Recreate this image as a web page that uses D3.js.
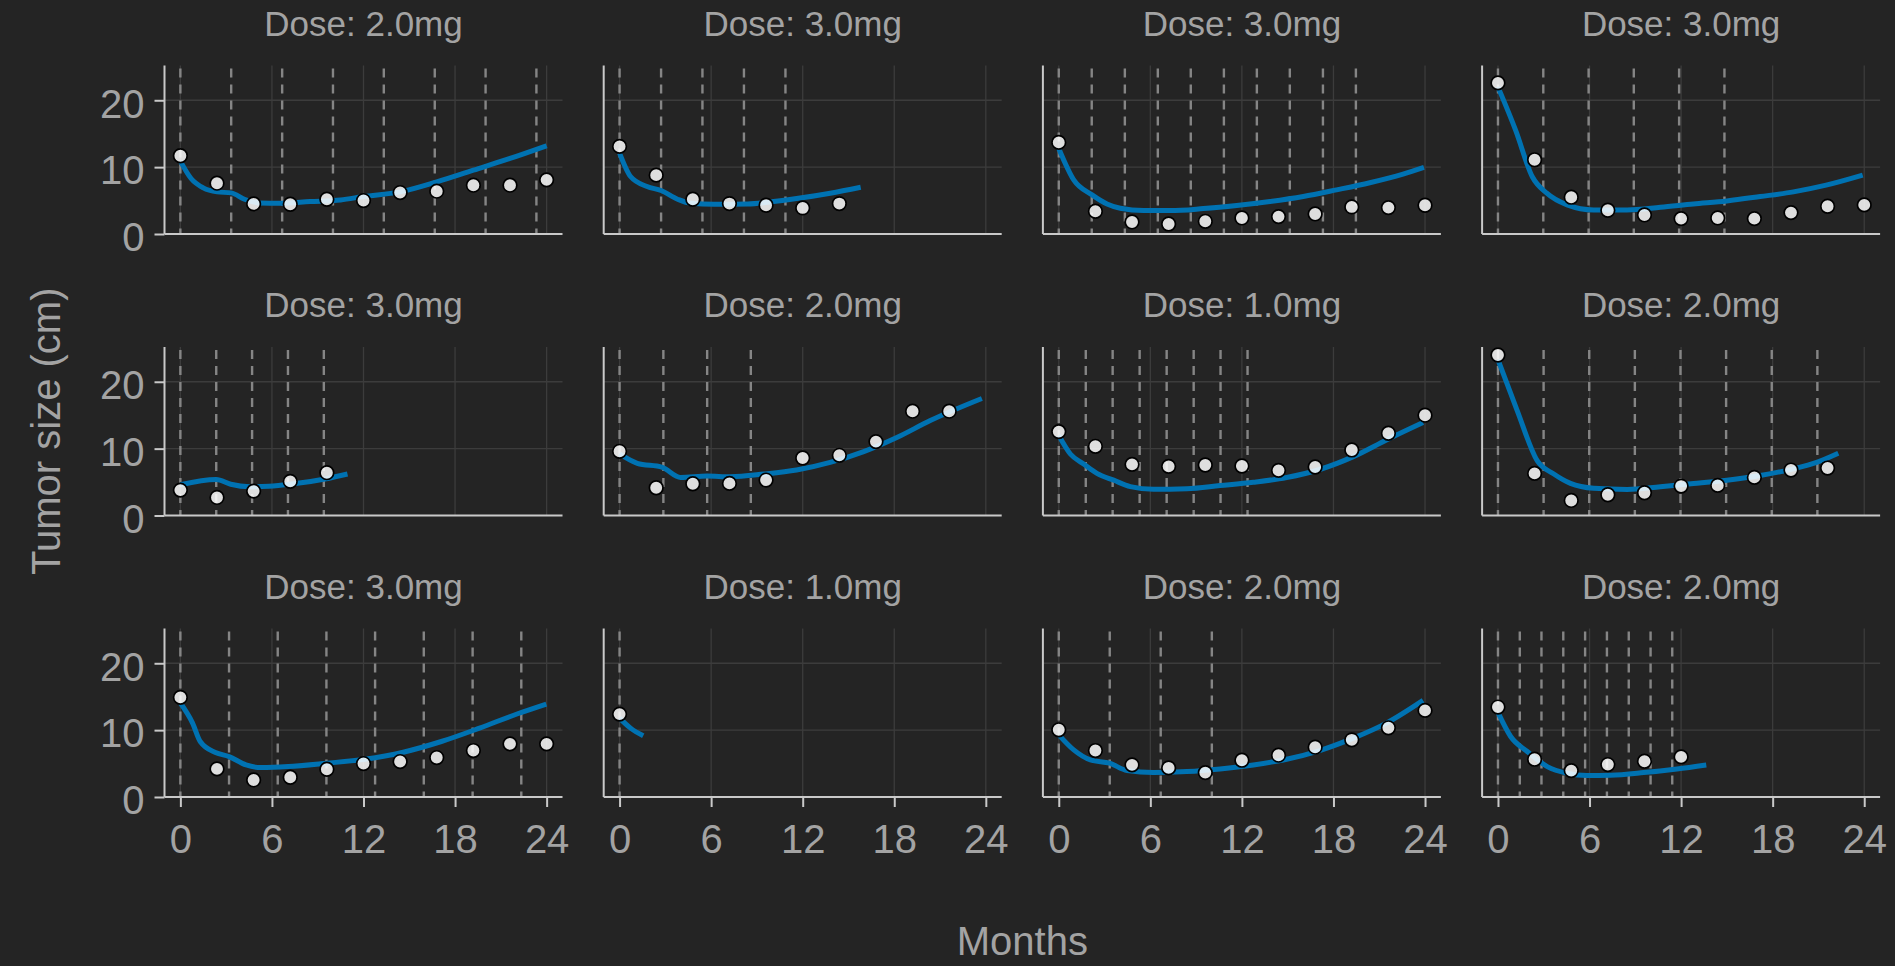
<!DOCTYPE html>
<html>
<head>
<meta charset="utf-8">
<script src="https://cdn.jsdelivr.net/npm/d3@7"></script>
<style>
  html, body { margin: 0; padding: 0; background: #242424; }
  svg { display: block; }
  text { font-family: "Liberation Sans", Arial, "DejaVu Sans", sans-serif; }
</style>
</head>
<body>
<svg id="chart" width="1895" height="966"></svg>
<script>
// Panel titles, one per patient (row-major, 3 rows x 4 columns)
const panelTitles = [
  "Dose: 2.0mg", "Dose: 3.0mg", "Dose: 3.0mg", "Dose: 3.0mg",
  "Dose: 3.0mg", "Dose: 2.0mg", "Dose: 1.0mg", "Dose: 2.0mg",
  "Dose: 3.0mg", "Dose: 1.0mg", "Dose: 2.0mg", "Dose: 2.0mg"
];

// Scheduled observation times (months)
const obsMonths = [0, 2.4, 4.8, 7.2, 9.6, 12, 14.4, 16.8, 19.2, 21.6, 24];

// Observed tumor size (cm) at each observation time
const obsSizes = [
  [11.7, 7.6, 4.5, 4.45, 5.2, 5.0, 6.2, 6.4, 7.3, 7.3, 8.1],
  [13.1, 8.8, 5.2, 4.55, 4.3, 3.9, 4.55],
  [13.7, 3.4, 1.8, 1.5, 1.9, 2.4, 2.6, 3.0, 4.05, 3.95, 4.3],
  [22.6, 11.1, 5.5, 3.55, 2.85, 2.3, 2.4, 2.3, 3.2, 4.15, 4.35],
  [3.8, 2.7, 3.65, 5.1, 6.4],
  [9.6, 4.15, 4.75, 4.8, 5.3, 8.6, 9.0, 11.05, 15.6, 15.6],
  [12.55, 10.35, 7.65, 7.35, 7.55, 7.4, 6.75, 7.25, 9.8, 12.3, 15.0],
  [24.0, 6.3, 2.25, 3.1, 3.4, 4.4, 4.5, 5.7, 6.8, 7.1],
  [14.9, 4.2, 2.55, 2.95, 4.15, 5.0, 5.3, 5.9, 6.95, 7.95, 7.95],
  [12.4],
  [10.05, 6.95, 4.8, 4.35, 3.65, 5.5, 6.25, 7.45, 8.55, 10.35, 12.95],
  [13.45, 5.65, 3.95, 4.85, 5.35, 6.0]
];

// Dosing times (months) for each patient
const doseMonths = [
  [0, 3.33, 6.67, 10.0, 13.33, 16.67, 20.0, 23.33],
  [0, 2.72, 5.43, 8.15, 10.87],
  [0, 2.16, 4.33, 6.49, 8.65, 10.82, 12.98, 15.14, 17.31, 19.47],
  [0, 2.97, 5.94, 8.9, 11.87, 14.84],
  [0, 2.35, 4.7, 7.05, 9.4],
  [0, 2.87, 5.74, 8.6],
  [0, 1.77, 3.53, 5.3, 7.07, 8.84, 10.6, 12.37],
  [0, 2.99, 5.98, 8.97, 11.96, 14.95, 17.94, 20.93],
  [0, 3.19, 6.38, 9.57, 12.76, 15.95, 19.15, 22.34],
  [0],
  [0, 3.34, 6.68, 10.03],
  [0, 1.43, 2.85, 4.28, 5.71, 7.14, 8.57, 10.0, 11.42]
];

// Model-predicted tumor size: months and sizes along each fitted curve
const fitMonths = [
  [0, 0.7, 1.5, 2.4, 3.33, 4.2, 5.2, 6.5, 8.5, 10.5, 12, 14.4, 16.8, 19.2, 21.6, 24],
  [0, 0.72, 1.8, 2.72, 3.8, 4.65, 6.2, 8.4, 9.7, 11.6, 13.8, 15.8],
  [0, 0.98, 2.18, 3.16, 4.03, 5.56, 7.3, 9.48, 11.66, 13.84, 16.02, 18.2, 20.38, 22.56, 23.93],
  [0, 1.16, 2.25, 3.2, 4.53, 6.28, 8.46, 10.64, 12.8, 15.0, 17.18, 19.36, 21.5, 23.9],
  [0, 2.35, 3.3, 4.56, 5.8, 7.3, 9.57, 10.95],
  [0, 1.16, 2.8, 4.0, 5.74, 7.27, 9.45, 11.6, 13.8, 16.0, 18.2, 20.36, 23.74],
  [0, 0.76, 1.63, 2.5, 3.6, 4.69, 6.2, 8.4, 10.57, 12.75, 14.93, 17.1, 19.3, 21.47, 23.87],
  [0, 1.26, 2.57, 3.66, 4.75, 6.28, 8.46, 10.64, 12.82, 15.0, 17.18, 19.36, 20.88, 22.3],
  [0, 0.8, 1.3, 2.3, 3.19, 4.3, 5.3, 7.07, 9.57, 12.08, 14.6, 17.1, 19.6, 22.1, 23.98],
  [0, 0.72, 1.55],
  [0, 0.98, 2.07, 3.34, 4.47, 6.2, 8.39, 10.57, 12.75, 14.93, 17.1, 19.3, 21.47, 23.87],
  [0, 0.83, 1.92, 3.23, 4.53, 5.84, 7.37, 9.55, 11.73, 13.65]
];
const fitSizes = [
  [10.9, 8.3, 6.9, 6.3, 6.15, 5.2, 4.65, 4.6, 4.85, 5.1, 5.6, 6.3, 7.8, 9.55, 11.3, 13.2],
  [12.1, 8.6, 7.1, 6.5, 5.2, 4.6, 4.45, 4.5, 4.75, 5.3, 6.1, 7.0],
  [12.8, 8.1, 5.85, 4.5, 3.86, 3.5, 3.5, 3.8, 4.26, 4.85, 5.6, 6.6, 7.67, 8.96, 9.95],
  [22.0, 15.5, 8.56, 6.1, 4.36, 3.6, 3.6, 4.0, 4.5, 4.95, 5.6, 6.3, 7.3, 8.8],
  [4.6, 5.4, 4.67, 4.3, 4.37, 4.7, 5.5, 6.2],
  [9.2, 7.8, 7.2, 5.7, 5.9, 5.8, 6.2, 6.8, 7.94, 9.55, 11.7, 14.2, 17.5],
  [11.96, 9.2, 7.7, 6.3, 5.28, 4.32, 3.92, 4.0, 4.47, 4.97, 5.68, 6.88, 8.8, 11.3, 13.9],
  [23.3, 15.7, 8.2, 6.2, 4.8, 4.07, 3.9, 4.3, 4.77, 5.28, 5.98, 6.98, 7.94, 9.3],
  [14.05, 11.05, 8.3, 6.65, 6.05, 4.8, 4.4, 4.55, 5.05, 5.65, 6.7, 8.3, 10.3, 12.45, 13.9],
  [11.8, 10.3, 9.15],
  [9.3, 7.05, 5.55, 5.05, 3.95, 3.65, 3.8, 4.2, 4.8, 5.65, 6.95, 8.8, 11.05, 14.45],
  [12.65, 9.05, 6.8, 4.55, 3.55, 3.2, 3.25, 3.65, 4.2, 4.8]
];

// Axis ticks
const xTicks = [0, 6, 12, 18, 24];
const yTicks = [0, 10, 20];
const xLabel = "Months";
const yLabel = "Tumor size (cm)";

// ---- layout ----
const nCols = 4, nRows = 3;
const panelW = 398, panelH = 168.5;
const left0 = 164.5, colPitch = 439.2;
const top0 = 65.5, rowPitch = 281.5;

const colors = {
  text: "#a3a3a3",
  spine: "#c9c9c9",
  grid: "#3c3c3c",
  dose: "#858585",
  fit: "#0072b2",
  pointFill: "#ffffff",
  pointStroke: "#000000"
};

const svg = d3.select("#chart");

const x = d3.scaleLinear().domain([-1.04, 25.04]).range([0, panelW]);
const y = d3.scaleLinear().domain([0, 25.2]).range([panelH, 0]);

const line = d3.line()
  .x(d => x(d[0]))
  .y(d => y(d[1]))
  .curve(d3.curveMonotoneX);

panelTitles.forEach((title, i) => {
  const r = Math.floor(i / nCols), c = i % nCols;
  const g = svg.append("g")
    .attr("transform", `translate(${left0 + c * colPitch},${top0 + r * rowPitch})`);

  // title
  g.append("text")
    .attr("x", panelW / 2)
    .attr("y", -30)
    .attr("text-anchor", "middle")
    .attr("font-size", 35)
    .attr("fill", colors.text)
    .text(title);

  // grid
  g.append("g").selectAll("line.vx").data(xTicks).join("line")
    .attr("x1", d => x(d)).attr("x2", d => x(d))
    .attr("y1", 0).attr("y2", panelH)
    .attr("stroke", colors.grid).attr("stroke-width", 1.3);
  g.append("g").selectAll("line.hy").data(yTicks.filter(t => t > 0)).join("line")
    .attr("x1", 0).attr("x2", panelW)
    .attr("y1", d => y(d)).attr("y2", d => y(d))
    .attr("stroke", colors.grid).attr("stroke-width", 1.3);

  // dosing times
  g.append("g").selectAll("line").data(doseMonths[i]).join("line")
    .attr("x1", d => x(d)).attr("x2", d => x(d))
    .attr("y1", 3).attr("y2", panelH)
    .attr("stroke", colors.dose)
    .attr("stroke-width", 2.4)
    .attr("stroke-dasharray", "9,7");

  // axes
  const yAxis = d3.axisLeft(y).tickValues(yTicks).tickSize(c === 0 ? 10 : 0).tickPadding(10)
    .tickFormat(c === 0 ? d3.format("d") : () => "");
  const ya = g.append("g").call(yAxis);
  ya.select(".domain").attr("d", `M0,0V${panelH}`).attr("stroke", colors.spine).attr("stroke-width", 2);
  ya.selectAll(".tick line").attr("stroke", colors.spine).attr("stroke-width", 2);
  ya.selectAll(".tick text").attr("fill", colors.text).attr("font-size", 40)
    .attr("font-family", "Liberation Sans, Arial, sans-serif").attr("dy", "0.42em");

  const xAxis = d3.axisBottom(x).tickValues(xTicks).tickSize(r === nRows - 1 ? 10 : 0).tickPadding(8)
    .tickFormat(r === nRows - 1 ? d3.format("d") : () => "");
  const xa = g.append("g").attr("transform", `translate(0,${panelH})`).call(xAxis);
  xa.select(".domain").attr("d", `M0,0H${panelW}`).attr("stroke", colors.spine).attr("stroke-width", 2);
  xa.selectAll(".tick line").attr("stroke", colors.spine).attr("stroke-width", 2);
  xa.selectAll(".tick text").attr("fill", colors.text).attr("font-size", 40)
    .attr("font-family", "Liberation Sans, Arial, sans-serif").attr("dy", "0.95em");

  // fitted curve
  const fitPts = fitMonths[i].map((m, k) => [m, fitSizes[i][k]]);
  g.append("path")
    .datum(fitPts)
    .attr("d", line)
    .attr("fill", "none")
    .attr("stroke", colors.fit)
    .attr("stroke-width", 5)
    .attr("stroke-linejoin", "round");

  // observations
  const obs = obsSizes[i].map((v, k) => [obsMonths[k], v]);
  g.append("g").selectAll("circle").data(obs).join("circle")
    .attr("cx", d => x(d[0]))
    .attr("cy", d => y(d[1]))
    .attr("r", 6.8)
    .attr("fill", colors.pointFill)
    .attr("fill-opacity", 0.85)
    .attr("stroke", colors.pointStroke)
    .attr("stroke-width", 1.7);
});

// shared axis labels
const gridLeft = left0, gridRight = left0 + (nCols - 1) * colPitch + panelW;
const gridTop = top0, gridBottom = top0 + (nRows - 1) * rowPitch + panelH;

svg.append("text")
  .attr("x", (gridLeft + gridRight) / 2)
  .attr("y", 955)
  .attr("text-anchor", "middle")
  .attr("font-size", 40)
  .attr("fill", colors.text)
  .text(xLabel);

svg.append("text")
  .attr("transform", `translate(60,${(gridTop + gridBottom) / 2}) rotate(-90)`)
  .attr("text-anchor", "middle")
  .attr("font-size", 40)
  .attr("fill", colors.text)
  .text(yLabel);
</script>
</body>
</html>
